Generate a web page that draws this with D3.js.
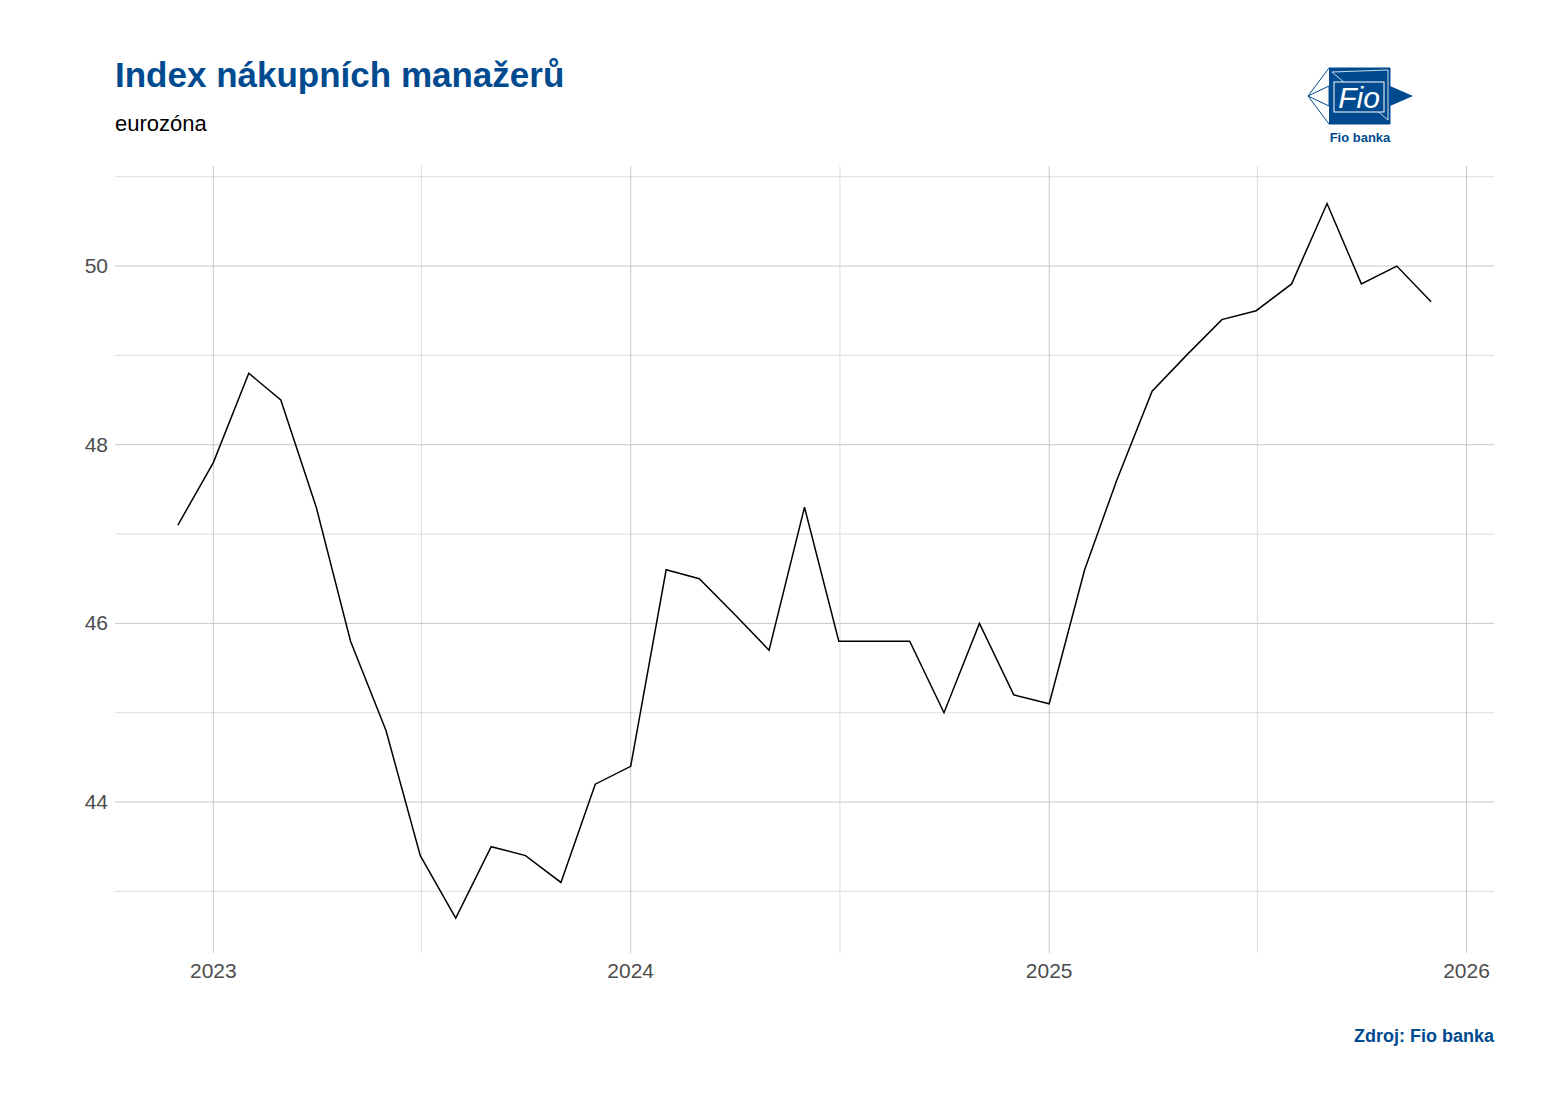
<!DOCTYPE html><html><head><meta charset="utf-8"><script src="https://d3js.org/d3.v7.min.js"></script>
<style>body{margin:0;background:#fff}text{font-family:Arial,"Liberation Sans",sans-serif}</style></head><body><svg id="c" width="1554" height="1105"></svg>
<script>
const startMonth = "2022-12";
const values = [47.1,47.8,48.8,48.5,47.3,45.8,44.8,43.4,42.7,43.5,43.4,43.1,44.2,
44.4,46.6,46.5,46.1,45.7,47.3,45.8,45.8,45.8,45.0,46.0,45.2,
45.1,46.6,47.6,48.6,49.0,49.4,49.5,49.8,50.7,49.8,50.0,49.6];
const yTicks = [44,46,48,50];
const yMinor = [43,45,47,49,51];
const xTickYears = [2023,2024,2025,2026];

const svg = d3.select("#c");
const dates = values.map((v,i)=>new Date(2022,11+i,1));
const x = d3.scaleTime().domain([new Date(2022,9,7), new Date(2026,0,25)]).range([115,1494]);
const y = d3.scaleLinear().domain([42.31,51.12]).range([953,166]);
const g = svg.append("g");
yMinor.forEach(v=>g.append("line").attr("x1",115).attr("x2",1494).attr("y1",y(v)).attr("y2",y(v)).attr("stroke","#d4d4d4").attr("stroke-width",0.8));
yTicks.forEach(v=>g.append("line").attr("x1",115).attr("x2",1494).attr("y1",y(v)).attr("y2",y(v)).attr("stroke","#c8c8c8").attr("stroke-width",1));
[2023,2024,2025].forEach(yr=>{const xx=x(new Date(yr,6,2));g.append("line").attr("x1",xx).attr("x2",xx).attr("y1",166).attr("y2",953).attr("stroke","#d4d4d4").attr("stroke-width",0.8);});
xTickYears.forEach(yr=>{const xx=x(new Date(yr,0,1));g.append("line").attr("x1",xx).attr("x2",xx).attr("y1",166).attr("y2",953).attr("stroke","#c8c8c8");
 g.append("text").attr("x",xx).attr("y",978).attr("text-anchor","middle").attr("font-size",21).attr("fill","#4d4d4d").text(yr);});
yTicks.forEach(v=>g.append("text").attr("x",108).attr("y",y(v)+7).attr("text-anchor","end").attr("font-size",21).attr("fill","#4d4d4d").text(v));
g.append("path").datum(values).attr("fill","none").attr("stroke","#000").attr("stroke-width",1.5)
 .attr("d",d3.line().x((d,i)=>x(dates[i])).y(d=>y(d)));
svg.append("text").attr("x",115).attr("y",87).attr("font-size",35).attr("font-weight","bold").attr("fill","#004a8f").text("Index nákupních manažerů");
svg.append("text").attr("x",115).attr("y",131).attr("font-size",22).attr("fill","#000").text("eurozóna");
svg.append("text").attr("x",1494).attr("y",1042).attr("text-anchor","end").attr("font-size",18).attr("font-weight","bold").attr("fill","#004a8f").text("Zdroj: Fio banka");
// logo
const L=svg.append("g");
L.append("polygon").attr("points","1329,68 1390,68 1390,124 1329,124").attr("fill","#004a8f");
L.append("polygon").attr("points","1390,86 1413,96 1390,106").attr("fill","#004a8f");
L.append("polygon").attr("points","1308,96 1329,86 1329,106").attr("fill","#fff").attr("stroke","#004a8f");
L.append("polygon").attr("points","1329,68 1390,68 1390,124 1329,124 1308,96").attr("fill","none").attr("stroke","#004a8f");
L.append("polygon").attr("points","1332,72 1388,120 1388,70").attr("fill","none").attr("stroke","#fff").attr("stroke-width",0.8);
L.append("rect").attr("x",1334).attr("y",82).attr("width",50).attr("height",30).attr("fill","#004a8f").attr("stroke","#fff");
L.append("text").attr("x",1359).attr("y",108).attr("text-anchor","middle").attr("font-family","Liberation Serif,serif").attr("font-style","italic").attr("font-size",30).attr("fill","#fff").text("Fio");
L.append("text").attr("x",1360).attr("y",142).attr("text-anchor","middle").attr("font-size",13).attr("font-weight","bold").attr("fill","#004a8f").text("Fio banka");
</script></body></html>
